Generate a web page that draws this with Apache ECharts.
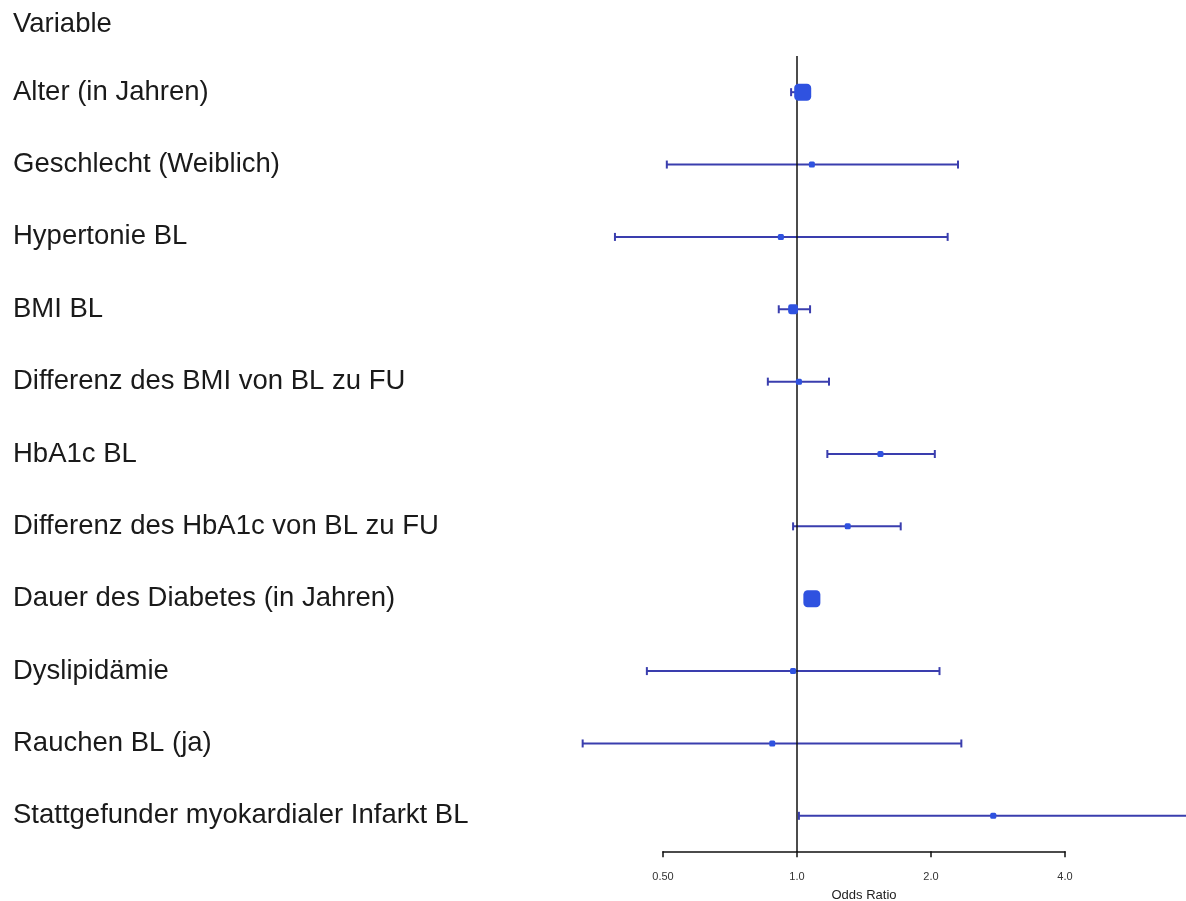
<!DOCTYPE html>
<html>
	<head>
		<meta charset="UTF-8">
		<title>Odds Ratio</title>
		<script src="https://cdn.jsdelivr.net/npm/echarts@6/dist/echarts.min.js"></script>
		<style>
			html, body { margin: 0; padding: 0; background: #fff; }
			#chart { width: 1186px; height: 901px; }
		</style>
	</head>
	<body>
		<div id="chart"></div>
		<script>
			// Variablen und Schätzer (von oben nach unten)
			var variables = [
				'Alter (in Jahren)',
				'Geschlecht (Weiblich)',
				'Hypertonie BL',
				'BMI BL',
				'Differenz des BMI von BL zu FU',
				'HbA1c BL',
				'Differenz des HbA1c von BL zu FU',
				'Dauer des Diabetes (in Jahren)',
				'Dyslipidämie',
				'Rauchen BL (ja)',
				'Stattgefunder myokardialer Infarkt BL'
			];
			var oddsRatio = [1.03, 1.08, 0.92, 0.98, 1.01, 1.54, 1.30, 1.08, 0.98, 0.88, 2.76];
			var ciLower = [0.97, 0.51, 0.39, 0.91, 0.86, 1.17, 0.98, 1.05, 0.46, 0.33, 1.01];
			var ciUpper = [1.06, 2.30, 2.18, 1.07, 1.18, 2.04, 1.71, 1.11, 2.09, 2.34, 12.0];
			var xTicks = [0.5, 1, 2, 4];

			var chart = echarts.init(document.getElementById('chart'));

			var barData = [], pointData = [];
			for (var i = 0; i < variables.length; i++) {
				barData.push([ciLower[i], i, ciUpper[i]]);
				pointData.push([oddsRatio[i], i]);
			}

			// Boxgröße ~ Gewicht (1 / Breite des KI auf log-Skala)
			function boxSize(i) {
				var w = Math.log2(ciUpper[i]) - Math.log2(ciLower[i]);
				return Math.max(6, Math.min(17, 2.3 / w));
			}

			var option = {
				animation: false,
				textStyle: { fontFamily: 'Liberation Sans, Arial, sans-serif' },
				title: {
					text: 'Variable',
					left: 13,
					top: 10,
					padding: 0,
					textStyle: { fontSize: 27.5, fontWeight: 'normal', color: '#1a1a1a' }
				},
				grid: [
					{ left: 560, right: 0, top: 56, bottom: 49 },
					{ left: 663, right: 121, bottom: 49, height: 1 }
				],
				xAxis: [{
					gridIndex: 0,
					type: 'log',
					logBase: 2,
					min: 0.2935,
					max: 7.48,
					show: false
				}, {
					gridIndex: 1,
					type: 'log',
					logBase: 2,
					min: xTicks[0],
					max: xTicks[xTicks.length - 1],
					splitNumber: 3,
					axisLine: { show: true, lineStyle: { color: '#111', width: 1.5 } },
					axisTick: { show: true, length: 6, lineStyle: { color: '#111', width: 1.5 } },
					splitLine: { show: false },
					axisLabel: {
						color: '#333',
						fontSize: 11,
						margin: 20,
						formatter: function (v) { return v < 1 ? v.toFixed(2) : v.toFixed(1); }
					},
					name: 'Odds Ratio',
					nameLocation: 'middle',
					nameGap: 38,
					nameTextStyle: { color: '#222', fontSize: 13 }
				}],
				yAxis: [{
					gridIndex: 0,
					type: 'category',
					inverse: true,
					data: variables,
					axisLine: { show: false },
					axisTick: { show: false },
					splitLine: { show: false },
					axisLabel: {
						align: 'left',
						margin: 547,
						fontSize: 27.5,
						color: '#1a1a1a',
						padding: [4, 0, 0, 0]
					}
				}, {
					gridIndex: 1,
					type: 'value',
					show: false
				}],
				series: [{
					type: 'custom',
					xAxisIndex: 0,
					yAxisIndex: 0,
					clip: true,
					data: barData,
					renderItem: function (params, api) {
						var y = api.value(1);
						var p1 = api.coord([api.value(0), y]);
						var p2 = api.coord([api.value(2), y]);
						var st = { stroke: '#3a3eae', lineWidth: 2 };
						var h = 4;
						return {
							type: 'group',
							children: [
								{ type: 'line', shape: { x1: p1[0], y1: p1[1], x2: p2[0], y2: p2[1] }, style: st },
								{ type: 'line', shape: { x1: p1[0], y1: p1[1] - h, x2: p1[0], y2: p1[1] + h }, style: st },
								{ type: 'line', shape: { x1: p2[0], y1: p2[1] - h, x2: p2[0], y2: p2[1] + h }, style: st }
							]
						};
					}
				}, {
					type: 'scatter',
					xAxisIndex: 0,
					yAxisIndex: 0,
					symbol: 'roundRect',
					symbolSize: function (val, params) { return boxSize(params.dataIndex); },
					itemStyle: { color: '#2f52e0', opacity: 1 },
					data: pointData,
					z: 5,
					markLine: {
						silent: true,
						symbol: 'none',
						label: { show: false },
						lineStyle: { color: '#111', width: 1.5, type: 'solid' },
						data: [{ xAxis: 1 }]
					}
				}]
			};

			chart.setOption(option);
		</script>
	</body>
</html>
